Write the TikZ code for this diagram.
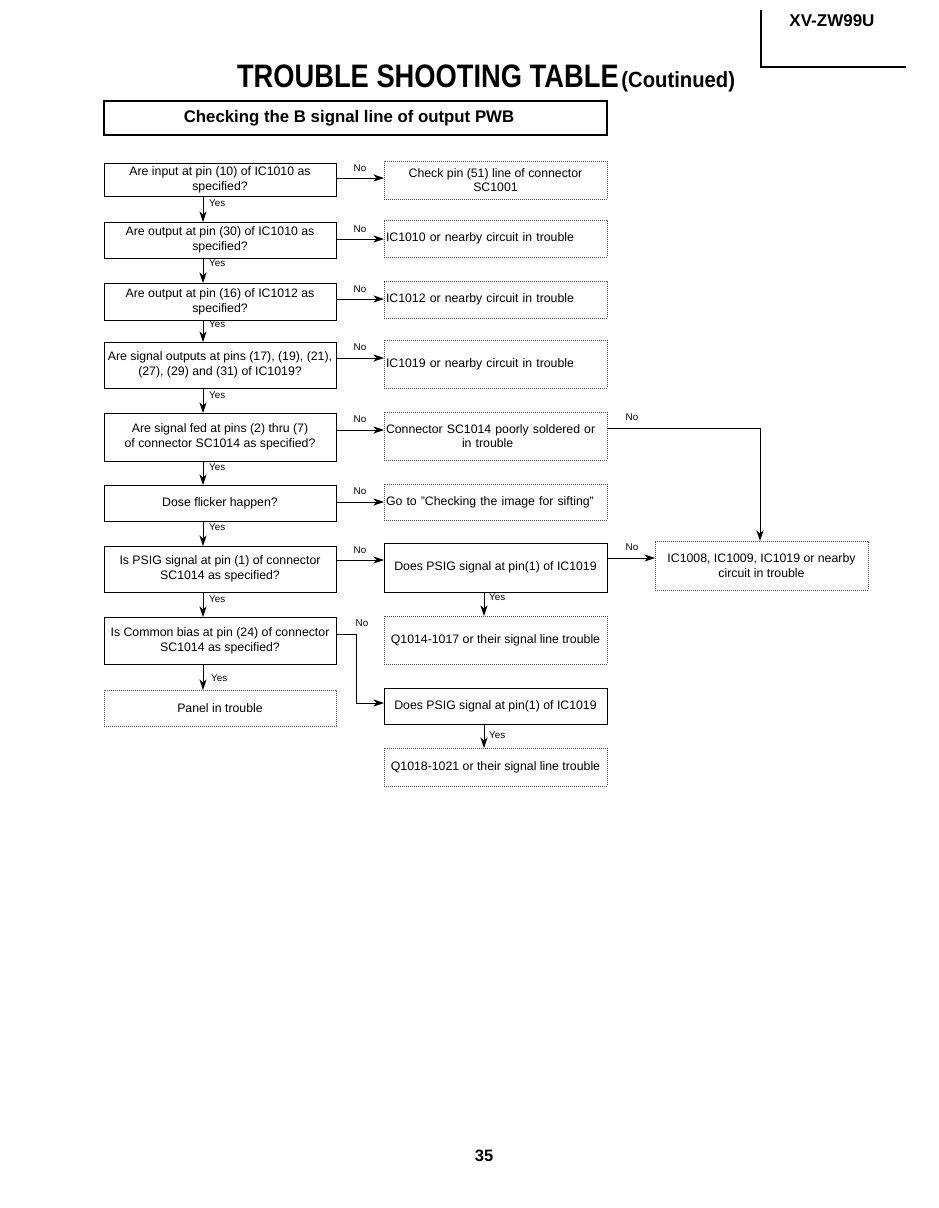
\documentclass[tikz,border=0pt]{standalone}
\usepackage{fontspec}
\setmainfont{Liberation Sans}
\usetikzlibrary{arrows.meta}
\newcommand{\bodyf}{\fontsize{12.3}{14.8}\selectfont}
\newcommand{\labf}{\fontsize{9.8}{10}\selectfont}
\begin{document}
\begin{tikzpicture}[x=1pt,y=-1pt,
  qbox/.style={draw, line width=1.0pt, minimum width=232pt, inner sep=0pt, outer sep=0pt, align=center, font=\bodyf},
  dotbox/.style={draw=black!70, line width=0.7pt, dash pattern=on 0.8pt off 1.2pt, inner sep=0pt, outer sep=0pt, align=center, font=\bodyf},
  rbox/.style={dotbox, minimum width=223pt},
  rleft/.style={rbox, align=left, text width=219pt, inner xsep=2pt},
  sbox/.style={draw, line width=1.0pt, minimum width=223pt, inner sep=0pt, outer sep=0pt, align=center, font=\bodyf},
  arr/.style={-{Stealth[length=10.5pt,width=7pt,inset=3pt]}, line width=0.9pt},
  lab/.style={font=\labf, inner sep=0pt}
]
\useasboundingbox (0,0) rectangle (939,1208);
\fill[white] (0,0) rectangle (939,1208);

% header
\draw[line width=1.2pt] (761,10) -- (761,67) -- (906,67);
\node[font=\fontsize{17}{17}\selectfont\bfseries, inner sep=0pt] (hdr) at (832,21) {XV-ZW99U};
\node[inner sep=0pt, anchor=base] (title) at (486,87)
  {\scalebox{0.84}[1]{\fontsize{32.5}{33}\selectfont\bfseries TROUBLE SHOOTING TABLE} \scalebox{0.92}[1]{\fontsize{22}{22}\selectfont\bfseries (Coutinued)}};
\node[draw, line width=1.8pt, minimum width=503pt, minimum height=34pt, inner sep=0pt, font=\fontsize{16.8}{17}\selectfont\bfseries] (sec) at (355.5,118)
  {\hspace*{-13pt}Checking the B signal line of output PWB};

% left column
\node[qbox, minimum height=33pt] (q1) at (220,179.5) {Are input at pin (10) of IC1010 as\\specified?};
\node[qbox, minimum height=36pt] (q2) at (220,240) {Are output at pin (30) of IC1010 as\\specified?};
\node[qbox, minimum height=37pt] (q3) at (220,301.5) {Are output at pin (16) of IC1012 as\\specified?};
\node[qbox, minimum height=46pt] (q4) at (220,365) {Are signal outputs at pins (17), (19), (21),\\(27), (29) and (31) of IC1019?};
\node[qbox, minimum height=48pt] (q5) at (220,437) {Are signal fed at pins (2) thru (7)\\of connector SC1014 as specified?};
\node[qbox, minimum height=36pt] (q6) at (220,503) {Dose flicker happen?};
\node[qbox, minimum height=46pt] (q7) at (220,569) {Is PSIG signal at pin (1) of connector\\SC1014 as specified?};
\node[qbox, minimum height=47pt] (q8) at (220,640.5) {Is Common bias at pin (24) of connector\\SC1014 as specified?};
\node[dotbox, minimum width=232pt, minimum height=36pt] (qp) at (220,708) {Panel in trouble};

% right column
\node[rbox, minimum height=38pt] (r1) at (495.5,180) {Check pin (51) line of connector\\SC1001};
\node[rleft, minimum height=37pt] (r2) at (495.5,238.5) {IC1010 or nearby circuit in trouble};
\node[rleft, minimum height=37pt] (r3) at (495.5,299.5) {IC1012 or nearby circuit in trouble};
\node[rleft, minimum height=48pt] (r4) at (495.5,364) {IC1019 or nearby circuit in trouble};
\node[rleft, minimum height=48pt] (r5) at (495.5,436) {Connector SC1014 poorly soldered or\\\hspace*{76pt}in trouble};
\node[rleft, minimum height=36pt] (r6) at (495.5,502) {Go to "Checking the image for sifting"};
\node[sbox, minimum height=49pt] (r7) at (495.5,567.5) {Does PSIG signal at pin(1) of IC1019};
\node[rbox, minimum height=48pt] (r8) at (495.5,640) {Q1014-1017 or their signal line trouble};
\node[sbox, minimum height=36pt] (r9) at (495.5,706) {Does PSIG signal at pin(1) of IC1019};
\node[rbox, minimum height=38pt] (r10) at (495.5,767) {Q1018-1021 or their signal line trouble};

% far right
\node[dotbox, minimum width=213pt, minimum height=49pt] (f) at (761.5,565.5) {IC1008, IC1009, IC1019 or nearby\\circuit in trouble};

% helper coordinates
\coordinate (ax) at (203,0);
\coordinate (bx) at (484,0);
\coordinate (cx) at (760,0);
\coordinate (k8) at (356,703);

% No arrows
\draw[arr] (q1.east |- 0,178) -- (r1.west |- 0,178);
\draw[arr] (q2.east |- 0,239) -- (r2.west |- 0,239);
\draw[arr] (q3.east |- 0,299) -- (r3.west |- 0,299);
\draw[arr] (q4.east |- 0,358) -- (r4.west |- 0,358);
\draw[arr] (q5.east |- 0,430) -- (r5.west |- 0,430);
\draw[arr] (q6.east |- 0,502) -- (r6.west |- 0,502);
\draw[arr] (q7.east |- 0,560) -- (r7.west |- 0,560);
\draw[arr] (q8.east |- 0,634) -| (k8) -- (r9.west |- k8);
\draw[arr] (r5.east |- 0,428) -| (f.north -| cx);
\draw[arr] (r7.east |- 0,558) -- (f.west |- 0,558);

\node[lab] (n1) at (360,168) {No};
\node[lab] (n2) at (360,229) {No};
\node[lab] (n3) at (360,289) {No};
\node[lab] (n4) at (360,347) {No};
\node[lab] (n5) at (360,419) {No};
\node[lab] (n6) at (360,491) {No};
\node[lab] (n7) at (360,550) {No};
\node[lab] (n8) at (362,623) {No};
\node[lab] (n9) at (632,417) {No};
\node[lab] (n10) at (632,547) {No};

% Yes arrows
\draw[arr] (q1.south -| ax) -- (q2.north -| ax);
\draw[arr] (q2.south -| ax) -- (q3.north -| ax);
\draw[arr] (q3.south -| ax) -- (q4.north -| ax);
\draw[arr] (q4.south -| ax) -- (q5.north -| ax);
\draw[arr] (q5.south -| ax) -- (q6.north -| ax);
\draw[arr] (q6.south -| ax) -- (q7.north -| ax);
\draw[arr] (q7.south -| ax) -- (q8.north -| ax);
\draw[arr] (q8.south -| ax) -- (qp.north -| ax);
\draw[arr] (r7.south -| bx) -- (r8.north -| bx);
\draw[arr] (r9.south -| bx) -- (r10.north -| bx);

\node[lab, anchor=west] (y1) at (209,203) {Yes};
\node[lab, anchor=west] (y2) at (209,263) {Yes};
\node[lab, anchor=west] (y3) at (209,324) {Yes};
\node[lab, anchor=west] (y4) at (209,395) {Yes};
\node[lab, anchor=west] (y5) at (209,467) {Yes};
\node[lab, anchor=west] (y6) at (209,527) {Yes};
\node[lab, anchor=west] (y7) at (209,599) {Yes};
\node[lab, anchor=west] (y8) at (211,678) {Yes};
\node[lab, anchor=west] (y9) at (489,597) {Yes};
\node[lab, anchor=west] (y10) at (489,735) {Yes};

% page number
\node[font=\fontsize{16.5}{17}\selectfont\bfseries, inner sep=0pt] (pg) at (484,1156) {35};
\end{tikzpicture}
\end{document}
